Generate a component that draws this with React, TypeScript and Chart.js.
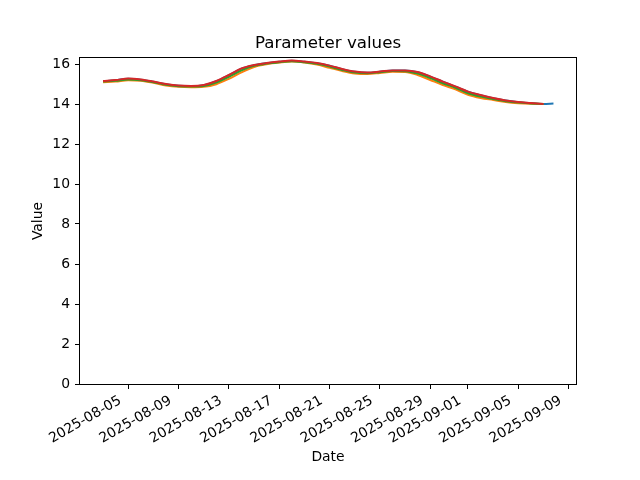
import React, { useEffect, useRef } from "react";
import { Chart, registerables } from "chart.js";

Chart.register(...registerables);

const TITLE = "Parameter values";
const X_LABEL = "Date";
const Y_LABEL = "Value";

// daily observations starting at this date
const START_DATE = "2025-08-03";
// blue series has one extra, later reading
const BLUE_LAST_TIME = "2025-09-07T19:00:00Z";
const BLUE_LAST_VALUE = 14.02;

const X_TICK_LABELS = [
  "2025-08-05", "2025-08-09", "2025-08-13", "2025-08-17", "2025-08-21",
  "2025-08-25", "2025-08-29", "2025-09-01", "2025-09-05", "2025-09-09",
];
const Y_TICKS = [0, 2, 4, 6, 8, 10, 12, 14, 16];
const X_MIN = "2025-08-01T04:00:00Z";
const X_MAX = "2025-09-09T14:00:00Z";
const Y_MIN = 0;
const Y_MAX = 16.3;

const SERIES_BLUE = [
  15.14, 15.19, 15.26, 15.21, 15.11, 14.99, 14.91, 14.89, 14.94, 15.14,
  15.44, 15.77, 15.94, 16.04, 16.11, 16.16, 16.11, 16.04, 15.91, 15.74,
  15.61, 15.56, 15.61, 15.67, 15.67, 15.59, 15.37, 15.11, 14.87, 14.61,
  14.44, 14.29, 14.17, 14.09, 14.04, 14.0,
];
const SERIES_ORANGE = [
  15.09, 15.12, 15.19, 15.16, 15.06, 14.93, 14.86, 14.84, 14.86, 14.99,
  15.26, 15.58, 15.85, 15.99, 16.07, 16.12, 16.07, 15.97, 15.81, 15.65,
  15.53, 15.5, 15.55, 15.61, 15.6, 15.45, 15.2, 14.95, 14.73, 14.46,
  14.3, 14.2, 14.1, 14.04, 14.01, 14.0,
];
const SERIES_GREEN = [
  15.12, 15.16, 15.23, 15.19, 15.09, 14.96, 14.89, 14.87, 14.9, 15.07,
  15.36, 15.68, 15.91, 16.02, 16.09, 16.14, 16.09, 16.01, 15.87, 15.7,
  15.57, 15.54, 15.59, 15.65, 15.64, 15.52, 15.3, 15.04, 14.81, 14.54,
  14.37, 14.25, 14.14, 14.07, 14.03, 14.0,
];
const SERIES_RED = [
  15.15, 15.2, 15.27, 15.22, 15.12, 15.0, 14.92, 14.9, 14.95, 15.15,
  15.45, 15.78, 15.95, 16.05, 16.12, 16.17, 16.12, 16.05, 15.92, 15.75,
  15.62, 15.57, 15.62, 15.68, 15.68, 15.6, 15.38, 15.12, 14.88, 14.62,
  14.45, 14.3, 14.18, 14.1, 14.05, 14.0,
];

const DAY_MS = 86400000;
const toDay = (s: string) => Date.parse(s.length === 10 ? s + "T00:00:00Z" : s) / DAY_MS;
const fmtDay = (d: number) => new Date(Math.round(d * DAY_MS)).toISOString().slice(0, 10);

const startDay = toDay(START_DATE);
const pts = (vals: number[]) => vals.map((v, i) => ({ x: startDay + i, y: v }));

const FONT = "DejaVu Sans";

const framePlugin = {
  id: "frame",
  afterDraw(chart: any) {
    const { ctx, chartArea } = chart;
    const l = Math.round(chartArea.left) - 0.5;
    const t = Math.round(chartArea.top) - 0.5;
    const r = Math.round(chartArea.right) + 0.5;
    const b = Math.round(chartArea.bottom) + 0.5;
    ctx.save();
    ctx.strokeStyle = "#000";
    ctx.lineWidth = 1;
    ctx.strokeRect(l, t, r - l, b - t);
    // axes title, centred over the plotting area
    ctx.fillStyle = "#000";
    ctx.font = `16.67px "${FONT}"`;
    ctx.textAlign = "center";
    ctx.textBaseline = "middle";
    ctx.fillText(TITLE, (chartArea.left + chartArea.right) / 2, chartArea.top - 14.5);
    ctx.restore();
  },
};

export default function App() {
  const ref = useRef<HTMLCanvasElement | null>(null);
  useEffect(() => {
    if (!ref.current) return;
    const line = (label: string, data: any[], color: string, order: number) => ({
      label,
      data,
      borderColor: color,
      backgroundColor: color,
      borderWidth: 2,
      pointRadius: 0,
      tension: 0.4,
      cubicInterpolationMode: "monotone" as const,
      fill: false,
      order,
    });
    const chart = new Chart(ref.current, {
      type: "line",
      data: {
        datasets: [
          line("blue", [...pts(SERIES_BLUE), { x: toDay(BLUE_LAST_TIME), y: BLUE_LAST_VALUE }], "#1f77b4", 3),
          line("orange", pts(SERIES_ORANGE), "#ff7f0e", 2),
          line("green", pts(SERIES_GREEN), "#2ca02c", 1),
          line("red", pts(SERIES_RED), "#d62728", 0),
        ],
      },
      options: {
        animation: false,
        responsive: false,
        devicePixelRatio: 1,
        layout: { padding: { left: 0, right: 64, top: 58, bottom: 0 } },
        plugins: {
          legend: { display: false },
          tooltip: { enabled: false },
          title: { display: false },
        },
        scales: {
          x: {
            type: "linear",
            min: toDay(X_MIN),
            max: toDay(X_MAX),
            afterBuildTicks: (scale: any) => {
              scale.ticks = X_TICK_LABELS.map((s) => ({ value: toDay(s) }));
            },
            afterFit: (scale: any) => {
              scale.height = 96;
            },
            border: { display: false },
            grid: {
              drawOnChartArea: false,
              drawTicks: true,
              tickLength: 5,
              tickColor: "#000",
              tickWidth: 1,
            },
            ticks: {
              autoSkip: false,
              minRotation: 30,
              maxRotation: 30,
              padding: 3.4,
              labelOffset: -8,
              color: "#000",
              font: { family: FONT, size: 13.9 },
              callback: (v: any) => fmtDay(Number(v)),
            },
            title: {
              display: true,
              text: X_LABEL,
              color: "#000",
              font: { family: FONT, size: 13.9, lineHeight: 1.2 },
              padding: { top: 0, bottom: 14.6 },
            },
          },
          y: {
            type: "linear",
            min: Y_MIN,
            max: Y_MAX,
            afterBuildTicks: (scale: any) => {
              scale.ticks = Y_TICKS.map((v) => ({ value: v }));
            },
            afterFit: (scale: any) => {
              scale.width = 80;
            },
            border: { display: false },
            grid: {
              drawOnChartArea: false,
              drawTicks: true,
              tickLength: 5,
              tickColor: "#000",
              tickWidth: 1,
            },
            ticks: {
              padding: 5,
              color: "#000",
              font: { family: FONT, size: 13.9 },
              callback: (v: any) => String(v),
            },
            title: {
              display: true,
              text: Y_LABEL,
              color: "#000",
              font: { family: FONT, size: 13.9, lineHeight: 1.2 },
              padding: { top: 30, bottom: 0 },
            },
          },
        },
      },
      plugins: [framePlugin],
    });
    return () => chart.destroy();
  }, []);
  return (
    <div style={{ position: "absolute", left: 0, top: 0, width: 640, height: 480, background: "#fff" }}>
      <canvas ref={ref} width={640} height={480} style={{ display: "block" }} />
    </div>
  );
}
